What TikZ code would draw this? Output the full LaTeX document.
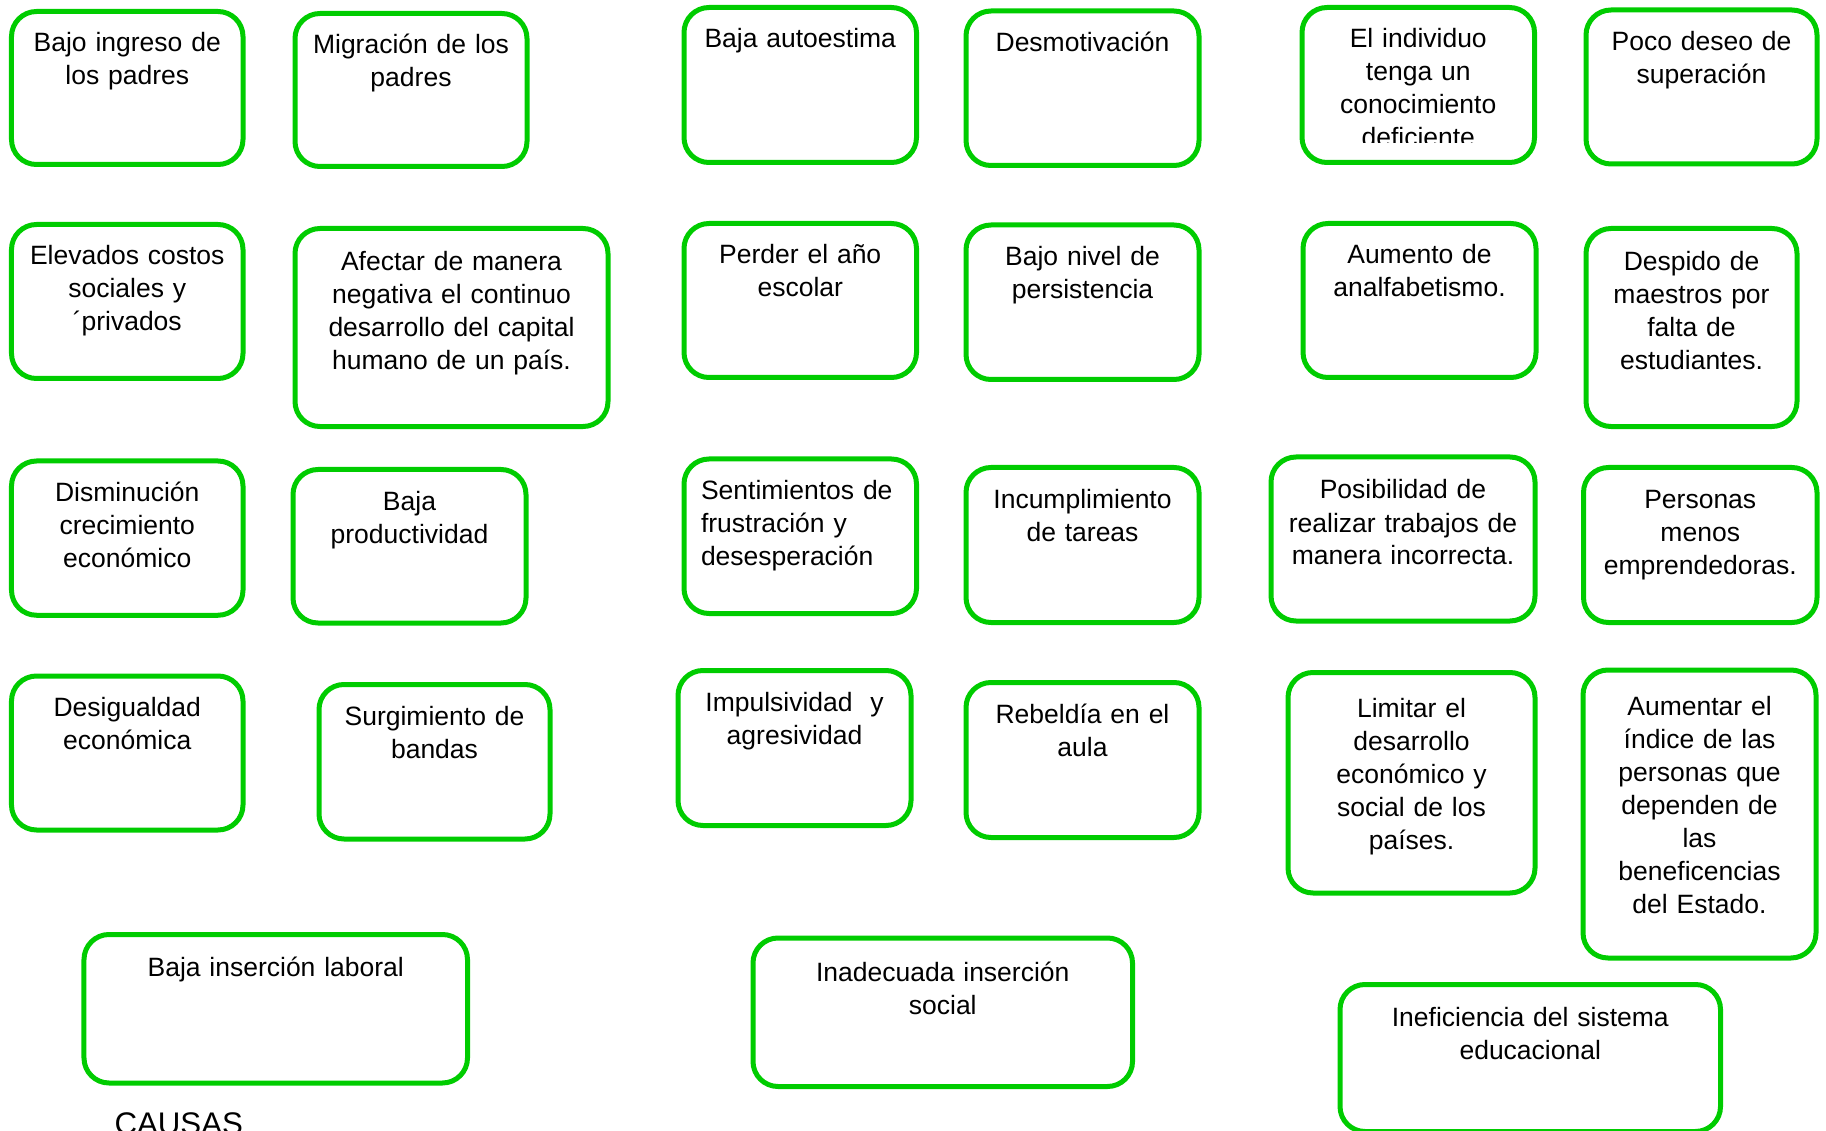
\documentclass[tikz,border=0pt]{standalone}
\usepackage{fontspec}
\setmainfont{Liberation Sans}
\usepackage{xcolor}
\definecolor{cardgreen}{RGB}{0,204,0}

\begin{document}
\begin{tikzpicture}[x=0.4pt, y=-0.4pt,
  cardtext/.style={anchor=north, align=center, inner xsep=0pt, inner ysep=0pt,
    text height=16.2pt, font=\fontsize{10.6pt}{13.2pt}\selectfont},
  card/.style={cardtext, draw=cardgreen, line width=2pt, rounded corners=10pt}]
\useasboundingbox (0,0) rectangle (1826,1131);

% Column 1
\node[card, text width=92.6pt, text depth=45pt] (ingreso) at (127.25,9) {Bajo ingreso de\\los padres};
\node[card, text width=92.6pt, text depth=45.4pt] (costos) at (127.25,222) {Elevados costos\\sociales y\\´privados};
\node[card, text width=92.6pt, text depth=45.5pt] (disminucion) at (127.25,458.5) {Disminución\\crecimiento\\económico};
\node[card, text width=92.6pt, text depth=45.4pt] (desigualdad) at (127.25,673.5) {Desigualdad\\económica};

% Column 2
\node[card, text width=92.8pt, text depth=45pt] (migracion) at (411,11) {Migración de los\\padres};
\node[card, text width=125.2pt, text height=16.8pt, text depth=62.4pt] (capital) at (451.5,226) {Afectar de manera\\negativa el continuo\\desarrollo del capital\\humano de un país.};
\node[card, text width=93.2pt, text depth=45.2pt] (productividad) at (409.5,467) {Baja\\productividad};
\node[card, text width=92.4pt, text depth=45.6pt] (bandas) at (434.5,682) {Surgimiento de\\bandas};

% Column 3
\node[card, text width=93pt, text depth=45.8pt] (autoestima) at (800.25,5) {Baja autoestima};
\node[card, text width=93pt, text depth=45.4pt] (perder) at (800.25,221) {Perder el año\\escolar};
\node[card, align=left, inner xsep=6.8pt, text width=79.4pt, text depth=45.6pt] (sentimientos) at (800.25,456.5) {Sentimientos de\\frustración y\\desesperación};
\node[card, text width=93.2pt, text depth=45.8pt] (impulsividad) at (794.5,668) {Impulsividad\ \ y\\agresividad};

% Column 4
\node[card, text width=93.2pt, text depth=45.6pt] (desmotivacion) at (1082.5,8.5) {Desmotivación};
\node[card, text width=93.2pt, text depth=45.6pt] (persistencia) at (1082.5,222.5) {Bajo nivel de\\persistencia};
\node[card, text width=93.2pt, text depth=45.8pt] (incumplimiento) at (1082.5,465) {Incumplimiento\\de tareas};
\node[card, text width=93.2pt, text depth=45.8pt] (rebeldia) at (1082.5,680) {Rebeldía en el\\aula};

% Column 5
\node[card, text width=93pt, text depth=45.8pt] (individuo) at (1418.25,5) {};
\begin{scope}
\clip (individuo.north west) rectangle ([yshift=8.8pt]individuo.south east);
\node[cardtext, text width=93pt, text height=17pt] (individuo-txt) at (individuo.north) {El individuo\\tenga un\\conocimiento\\deficiente};
\end{scope}
\node[card, text width=93.2pt, text depth=45.4pt] (analfabetismo) at (1419.5,221) {Aumento de\\analfabetismo.};
\node[card, text width=105.6pt, text height=16.8pt, text depth=48.8pt] (posibilidad) at (1403,454.5) {Posibilidad de\\realizar trabajos de\\manera incorrecta.};
\node[card, text width=98.8pt, text height=18pt, text depth=70.2pt] (limitar) at (1411.5,670) {Limitar el\\desarrollo\\económico y\\social de los\\países.};

% Column 6
\node[card, text width=92.4pt, text depth=45.4pt] (superacion) at (1701.5,7.5) {Poco deseo de\\superación};
\node[card, text width=84.4pt, text height=16.8pt, text depth=62.4pt] (despido) at (1691.5,226) {Despido de\\maestros por\\falta de\\estudiantes.};
\node[card, text width=93.4pt, text depth=45.8pt] (personas) at (1700.25,465) {Personas\\menos\\emprendedoras.};
\node[card, text width=93.2pt, text height=18pt, text depth=97.2pt] (aumentar) at (1699.5,667.5) {Aumentar el\\índice de las\\personas que\\dependen de\\las\\beneficencias\\del Estado.};

% Bottom row
\node[card, text width=153.4pt, text height=16.8pt, text depth=42.6pt] (laboral) at (275.75,932) {Baja inserción laboral};
\node[card, text width=151.8pt, text height=17.2pt, text depth=42.2pt] (insercion) at (942.75,935.5) {Inadecuada inserción\\social};
\node[card, text width=152.2pt, text height=16.8pt, text depth=42pt] (sistema) at (1530.25,982) {Ineficiencia del sistema\\educacional};

\node[anchor=base west, inner sep=0pt, font=\fontsize{12.5pt}{15pt}\selectfont] (causas) at (114,1134) {CAUSAS};
\end{tikzpicture}
\end{document}
